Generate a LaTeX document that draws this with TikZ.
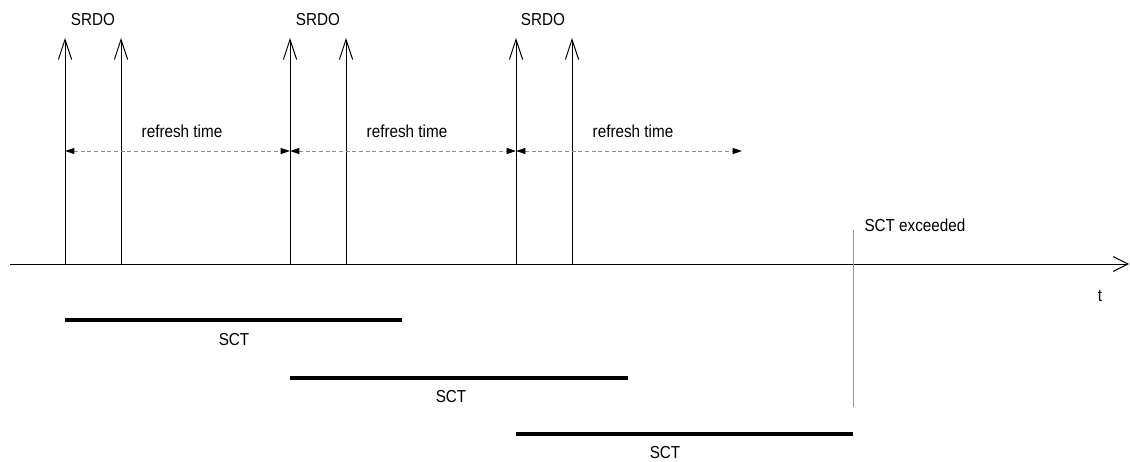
\documentclass[tikz,border=0pt]{standalone}
\usepackage{fontspec}
\setmainfont{Liberation Sans}[FakeStretch=0.88]
\usetikzlibrary{arrows.meta}

\tikzset{every picture/.style={line width=0.75pt}}

\begin{document}
\begin{tikzpicture}[x=0.75pt,y=0.75pt,yscale=-1,xscale=1,
	pulse/.style={-{Straight Barb[length=15pt,width=10pt,line width=0.75pt]}},
	refresh/.style={densely dashed,draw={rgb,255:red,140;green,140;blue,140},line width=0.6pt,
		{Triangle[black,length=7pt,width=4.5pt]}-{Triangle[black,length=7pt,width=4.5pt]}},
	sctbar/.style={line width=3pt},
	lbl/.style={font=\fontsize{13}{15}\selectfont,inner sep=0pt}]
	\path[use as bounding box] (0,0) rectangle (1130,461);

	%Time axis
	\coordinate (ax0) at (10,264);
	\coordinate (ax1) at (1129,264);
	\draw [-{Straight Barb[length=11pt,width=11pt,line width=0.75pt]}] (ax0) -- (ax1) ;
	\node [lbl] (t) at (1100,296) {t};

	%Pulses on the axis
	\coordinate (p1) at (65,264);   \coordinate (q1) at (65,38);
	\coordinate (p2) at (121,264);  \coordinate (q2) at (121,38);
	\coordinate (p3) at (290,264);  \coordinate (q3) at (290,38);
	\coordinate (p4) at (346,264);  \coordinate (q4) at (346,38);
	\coordinate (p5) at (516,264);  \coordinate (q5) at (516,38);
	\coordinate (p6) at (572,264);  \coordinate (q6) at (572,38);
	\draw [pulse] (p1) -- (q1) ;
	\draw [pulse] (p2) -- (q2) ;
	\draw [pulse] (p3) -- (q3) ;
	\draw [pulse] (p4) -- (q4) ;
	\draw [pulse] (p5) -- (q5) ;
	\draw [pulse] (p6) -- (q6) ;
	\node [lbl] (srdo1) at (93,20) {SRDO};
	\node [lbl] (srdo2) at (318,20) {SRDO};
	\node [lbl] (srdo3) at (543,20) {SRDO};

	%Refresh intervals
	\coordinate (r1) at (65,151);
	\coordinate (r2) at (290,151);
	\coordinate (r3) at (516,151);
	\coordinate (r4) at (742,151);
	\draw [refresh] (r1) -- (r2) ;
	\draw [refresh] (r2) -- (r3) ;
	\draw [refresh] (r3) -- (r4) ;
	\node [lbl] (ref1) at (182,131) {refresh time};
	\node [lbl] (ref2) at (407,131) {refresh time};
	\node [lbl] (ref3) at (633,131) {refresh time};

	%SCT windows
	\coordinate (s1a) at (65,320);   \coordinate (s1b) at (402,320);
	\coordinate (s2a) at (290,378);  \coordinate (s2b) at (628,378);
	\coordinate (s3a) at (516,434);  \coordinate (s3b) at (853,434);
	\draw [sctbar] (s1a) -- (s1b) ;
	\draw [sctbar] (s2a) -- (s2b) ;
	\draw [sctbar] (s3a) -- (s3b) ;
	\node [lbl] (sct1) at (234,340) {SCT};
	\node [lbl] (sct2) at (451,397) {SCT};
	\node [lbl] (sct3) at (665,453) {SCT};

	%Timeout mark
	\coordinate (x0) at (853,230);
	\coordinate (x1) at (853,407);
	\draw [draw={rgb,255:red,150;green,150;blue,150},line width=0.6pt] (x0) -- (x1) ;
	\node [lbl,anchor=west] (exc) at (864,225) {SCT exceeded};

\end{tikzpicture}
\end{document}
